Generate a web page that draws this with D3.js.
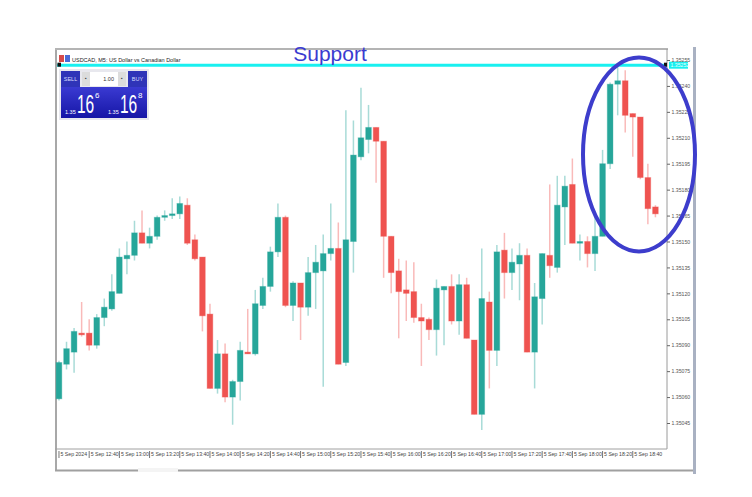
<!DOCTYPE html>
<html>
<head>
<meta charset="utf-8">
<script src="https://cdnjs.cloudflare.com/ajax/libs/d3/7.8.5/d3.min.js"></script>
<style>
  body { margin: 0; background: #fff; }
  svg { display: block; font-family: "Liberation Sans", Arial, sans-serif; }
</style>
</head>
<body>
<div id="chart"></div>
<script>
// USDCAD M5 candles
var opens = [1.35059, 1.35079, 1.35086, 1.35097, 1.35097, 1.35090, 1.35106, 1.35111, 1.35120, 1.35140,
  1.35142, 1.35155, 1.35149, 1.35153, 1.35164, 1.35165, 1.35166, 1.35171, 1.35151, 1.35141,
  1.35108, 1.35065, 1.35085, 1.35060, 1.35069, 1.35086, 1.35085, 1.35113, 1.35124, 1.35144,
  1.35164, 1.35113, 1.35126, 1.35112, 1.35132, 1.35133, 1.35143, 1.35146, 1.35080, 1.35150,
  1.35199, 1.35209, 1.35216, 1.35208, 1.35153, 1.35133, 1.35122, 1.35121, 1.35106, 1.35105,
  1.35099, 1.35122, 1.35124, 1.35104, 1.35125, 1.35093, 1.35050, 1.35115, 1.35087, 1.35145,
  1.35132, 1.35137, 1.35142, 1.35086, 1.35117, 1.35142, 1.35135, 1.35170, 1.35183, 1.35149,
  1.35150, 1.35143, 1.35153, 1.35195, 1.35241, 1.35243, 1.35224, 1.35222, 1.35187, 1.35170];
var highs = [1.35081, 1.35092, 1.35100, 1.35115, 1.35105, 1.35108, 1.35117, 1.35131, 1.35146, 1.35150,
  1.35162, 1.35168, 1.35158, 1.35165, 1.35168, 1.35175, 1.35176, 1.35175, 1.35154, 1.35141,
  1.35114, 1.35093, 1.35091, 1.35070, 1.35092, 1.35111, 1.35122, 1.35129, 1.35147, 1.35172,
  1.35165, 1.35127, 1.35126, 1.35141, 1.35148, 1.35154, 1.35172, 1.35161, 1.35226, 1.35220,
  1.35239, 1.35229, 1.35216, 1.35208, 1.35153, 1.35140, 1.35139, 1.35138, 1.35114, 1.35106,
  1.35128, 1.35124, 1.35131, 1.35131, 1.35129, 1.35093, 1.35146, 1.35121, 1.35148, 1.35155,
  1.35146, 1.35149, 1.35146, 1.35126, 1.35143, 1.35183, 1.35188, 1.35188, 1.35198, 1.35154,
  1.35153, 1.35165, 1.35203, 1.35242, 1.35251, 1.35249, 1.35224, 1.35222, 1.35195, 1.35171];
var lows = [1.35058, 1.35076, 1.35074, 1.35095, 1.35087, 1.35088, 1.35101, 1.35110, 1.35120, 1.35131,
  1.35139, 1.35149, 1.35146, 1.35151, 1.35162, 1.35163, 1.35163, 1.35148, 1.35139, 1.35098,
  1.35065, 1.35062, 1.35057, 1.35044, 1.35058, 1.35085, 1.35084, 1.35111, 1.35121, 1.35141,
  1.35112, 1.35104, 1.35093, 1.35107, 1.35111, 1.35066, 1.35139, 1.35079, 1.35078, 1.35132,
  1.35197, 1.35201, 1.35184, 1.35129, 1.35120, 1.35094, 1.35104, 1.35103, 1.35078, 1.35093,
  1.35084, 1.35090, 1.35102, 1.35096, 1.35094, 1.35050, 1.35041, 1.35065, 1.35078, 1.35117,
  1.35122, 1.35116, 1.35086, 1.35065, 1.35102, 1.35129, 1.35132, 1.35148, 1.35149, 1.35139,
  1.35135, 1.35133, 1.35153, 1.35192, 1.35223, 1.35213, 1.35199, 1.35186, 1.35160, 1.35164];
var closes = [1.35080, 1.35088, 1.35098, 1.35096, 1.35090, 1.35106, 1.35112, 1.35121, 1.35141, 1.35142,
  1.35155, 1.35149, 1.35153, 1.35164, 1.35165, 1.35166, 1.35172, 1.35149, 1.35140, 1.35107,
  1.35065, 1.35085, 1.35060, 1.35069, 1.35087, 1.35085, 1.35114, 1.35124, 1.35144, 1.35164,
  1.35113, 1.35126, 1.35112, 1.35132, 1.35138, 1.35143, 1.35146, 1.35079, 1.35151, 1.35200,
  1.35210, 1.35216, 1.35208, 1.35153, 1.35132, 1.35121, 1.35120, 1.35106, 1.35104, 1.35099,
  1.35123, 1.35124, 1.35104, 1.35125, 1.35094, 1.35050, 1.35117, 1.35087, 1.35144, 1.35132,
  1.35138, 1.35142, 1.35086, 1.35118, 1.35143, 1.35136, 1.35171, 1.35182, 1.35149, 1.35150,
  1.35143, 1.35153, 1.35195, 1.35241, 1.35243, 1.35223, 1.35222, 1.35187, 1.35169, 1.35166];

var priceTicks = [1.35045, 1.35060, 1.35075, 1.35090, 1.35105, 1.35120, 1.35135, 1.35150,
  1.35165, 1.35180, 1.35195, 1.35210, 1.35225, 1.35240, 1.35255];
var supportLevel = 1.35252;
var firstBar = new Date(2024, 8, 5, 12, 20);
var barMinutes = 5;
var labelEvery = 4;

var W = 752, H = 497;
var plotLeft = 57, plotRight = 667, plotTop = 49, plotBottom = 449;

var times = opens.map(function(d, i) { return d3.timeMinute.offset(firstBar, barMinutes * i); });
var bars = opens.map(function(d, i) {
  return {t: times[i], o: opens[i], h: highs[i], l: lows[i], c: closes[i]};
});

var svg = d3.select("#chart").append("svg")
  .attr("width", W)
  .attr("height", H);

var defs = svg.append("defs");
var grad = defs.append("linearGradient").attr("id", "btn").attr("x1", 0).attr("y1", 0).attr("x2", 0).attr("y2", 1);
grad.append("stop").attr("offset", "0%").attr("stop-color", "#3a3ad2");
grad.append("stop").attr("offset", "100%").attr("stop-color", "#1616a6");

/** scales */
var x = d3.scaleBand()
  .domain(times)
  .range([55.2, 659.2])
  .paddingInner(0.25)
  .paddingOuter(0.125);

var y = d3.scaleLinear()
  .domain([1.35045, 1.35255])
  .range([423, 60]);

var green = "#26a69a", red = "#ef5350";

/** window frame */
svg.append("line").attr("x1", plotLeft - 1).attr("x2", plotLeft - 1).attr("y1", plotTop - 1).attr("y2", 471)
  .attr("stroke", "#a8a8a8").attr("stroke-width", 2);
svg.append("line").attr("x1", plotLeft - 2).attr("x2", plotRight + 1).attr("y1", plotTop).attr("y2", plotTop)
  .attr("stroke", "#b4b4b4").attr("stroke-width", 2);
svg.append("line").attr("x1", plotRight).attr("x2", plotRight).attr("y1", plotTop).attr("y2", plotBottom)
  .attr("stroke", "#9a9a9a").attr("stroke-width", 1);
svg.append("line").attr("x1", plotLeft - 2).attr("x2", 694).attr("y1", 470.5).attr("y2", 470.5)
  .attr("stroke", "#a0a0a0").attr("stroke-width", 2);
svg.append("rect").attr("x", 138).attr("y", 468).attr("width", 40).attr("height", 4).attr("fill", "#f4f4f4");
svg.append("line").attr("x1", 694.5).attr("x2", 694.5).attr("y1", 47).attr("y2", 474)
  .attr("stroke", "#a9b1c2").attr("stroke-width", 3);

/** title row */
svg.append("rect").attr("x", 59).attr("y", 55).attr("width", 5).attr("height", 7).attr("fill", "#d64a4a");
svg.append("rect").attr("x", 65).attr("y", 55).attr("width", 5).attr("height", 7).attr("fill", "#4a6ad6");
svg.append("text").attr("x", 72).attr("y", 61.5)
  .attr("font-size", 5.5).attr("fill", "#222")
  .text("USDCAD, M5:  US Dollar vs Canadian Dollar");

/** candles */
var candles = svg.append("g").selectAll("g")
  .data(bars)
  .enter()
  .append("g");

candles.append("line")
  .attr("x1", function(d) { return x(d.t) + x.bandwidth() / 2; })
  .attr("x2", function(d) { return x(d.t) + x.bandwidth() / 2; })
  .attr("y1", function(d) { return y(d.h); })
  .attr("y2", function(d) { return y(d.l); })
  .attr("stroke", function(d) { return d.c >= d.o ? green : red; })
  .attr("stroke-opacity", 0.4)
  .attr("stroke-width", 1.5);

candles.append("rect")
  .attr("x", function(d) { return x(d.t); })
  .attr("y", function(d) { return y(Math.max(d.o, d.c)); })
  .attr("width", x.bandwidth())
  .attr("height", function(d) { return Math.max(1.6, Math.abs(y(d.o) - y(d.c))); })
  .attr("fill", function(d) { return d.c >= d.o ? green : red; })
  .attr("stroke", function(d) { return d.c >= d.o ? green : red; })
  .attr("stroke-opacity", 0.35)
  .attr("stroke-width", 1);

/** support line */
svg.append("line")
  .attr("x1", plotLeft).attr("x2", plotRight)
  .attr("y1", y(supportLevel)).attr("y2", y(supportLevel))
  .attr("stroke", "#19f0f0").attr("stroke-width", 3);
svg.append("rect").attr("x", 57.5).attr("y", y(supportLevel) - 2.5).attr("width", 3.5).attr("height", 4).attr("fill", "#111");
svg.append("rect").attr("x", plotRight - 3).attr("y", y(supportLevel) - 2.5).attr("width", 3).attr("height", 4).attr("fill", "#111");
svg.append("rect").attr("x", 669).attr("y", y(supportLevel) - 3.5).attr("width", 19).attr("height", 7).attr("fill", "#19f0f0");
svg.append("text").attr("x", 670.5).attr("y", y(supportLevel) + 2)
  .attr("font-size", 5.2).attr("fill", "#e8ffff")
  .text(d3.format(".5f")(supportLevel));

/** price axis */
var yAxis = svg.append("g")
  .attr("transform", "translate(" + plotRight + ",0)")
  .call(d3.axisRight(y).tickValues(priceTicks).tickSize(3).tickPadding(1.5).tickFormat(d3.format(".5f")));
yAxis.select(".domain").remove();
yAxis.selectAll("line").attr("stroke", "#666");
yAxis.selectAll("text").attr("font-size", 5.2).attr("fill", "#555").attr("font-family", "Liberation Sans, Arial, sans-serif");

/** time axis */
var xAxis = svg.append("g")
  .attr("transform", "translate(0," + plotBottom + ")")
  .call(d3.axisBottom(x)
    .tickValues(times.filter(function(d, i) { return i % labelEvery === 0; }))
    .tickSize(9)
    .tickFormat(function(d, i) { return i === 0 ? "5 Sep 2024" : d3.timeFormat("%-d %b %H:%M")(d); }));
xAxis.select(".domain").attr("d", "M" + (plotLeft - 2) + ",0H" + plotRight).attr("stroke", "#a0a0a0");
xAxis.selectAll("line").attr("stroke", "#777").attr("y1", 2);
xAxis.selectAll("text")
  .attr("text-anchor", "start")
  .attr("x", 1.5)
  .attr("y", 3)
  .attr("font-size", 5.2)
  .attr("fill", "#444")
  .attr("font-family", "Liberation Sans, Arial, sans-serif");

/** one click trading panel */
var panel = svg.append("g");
panel.append("rect").attr("x", 59).attr("y", 69).attr("width", 90).attr("height", 51).attr("fill", "#e8e8ee");
panel.append("rect").attr("x", 61).attr("y", 71).attr("width", 19).attr("height", 16).attr("fill", "#2f34b8");
panel.append("text").attr("x", 70.5).attr("y", 80.5).attr("text-anchor", "middle")
  .attr("font-size", 5.5).attr("fill", "#d8dcff").text("SELL");
panel.append("rect").attr("x", 82).attr("y", 72).attr("width", 8).attr("height", 14).attr("fill", "#dcdcdc");
panel.append("text").attr("x", 86).attr("y", 80).attr("text-anchor", "middle")
  .attr("font-size", 5).attr("fill", "#444").text("▪");
panel.append("rect").attr("x", 90).attr("y", 72).attr("width", 28).attr("height", 14).attr("fill", "#fff");
panel.append("text").attr("x", 114).attr("y", 80.5).attr("text-anchor", "end")
  .attr("font-size", 5.5).attr("fill", "#333").text("1.00");
panel.append("rect").attr("x", 118).attr("y", 72).attr("width", 8).attr("height", 14).attr("fill", "#dcdcdc");
panel.append("text").attr("x", 122).attr("y", 80).attr("text-anchor", "middle")
  .attr("font-size", 5).attr("fill", "#444").text("▪");
panel.append("rect").attr("x", 128).attr("y", 71).attr("width", 19).attr("height", 16).attr("fill", "#2f34b8");
panel.append("text").attr("x", 137.5).attr("y", 80.5).attr("text-anchor", "middle")
  .attr("font-size", 5.5).attr("fill", "#d8dcff").text("BUY");

[{x: 61, big: "16", sup: "6"}, {x: 104, big: "16", sup: "8"}].forEach(function(b) {
  panel.append("rect").attr("x", b.x).attr("y", 87).attr("width", 43).attr("height", 31).attr("fill", "url(#btn)");
  panel.append("text").attr("x", b.x + 4).attr("y", 114).attr("font-size", 5.5).attr("fill", "#fff").text("1.35");
  panel.append("text")
    .attr("transform", "translate(" + (b.x + 16) + ",113) scale(0.62,1)")
    .attr("font-size", 25).attr("fill", "#fff")
    .text(b.big);
  panel.append("text").attr("x", b.x + 34).attr("y", 97.5)
    .attr("font-size", 8).attr("fill", "#fff").text(b.sup);
});

/** annotation */
svg.append("text")
  .attr("x", 330).attr("y", 61)
  .attr("text-anchor", "middle")
  .attr("font-size", 21)
  .attr("fill", "#3b3bd0")
  .text("Support");

svg.append("ellipse")
  .attr("cx", 639).attr("cy", 154.5)
  .attr("rx", 56).attr("ry", 97)
  .attr("fill", "none")
  .attr("stroke", "#3d3dcc")
  .attr("stroke-width", 4);
</script>
</body>
</html>
